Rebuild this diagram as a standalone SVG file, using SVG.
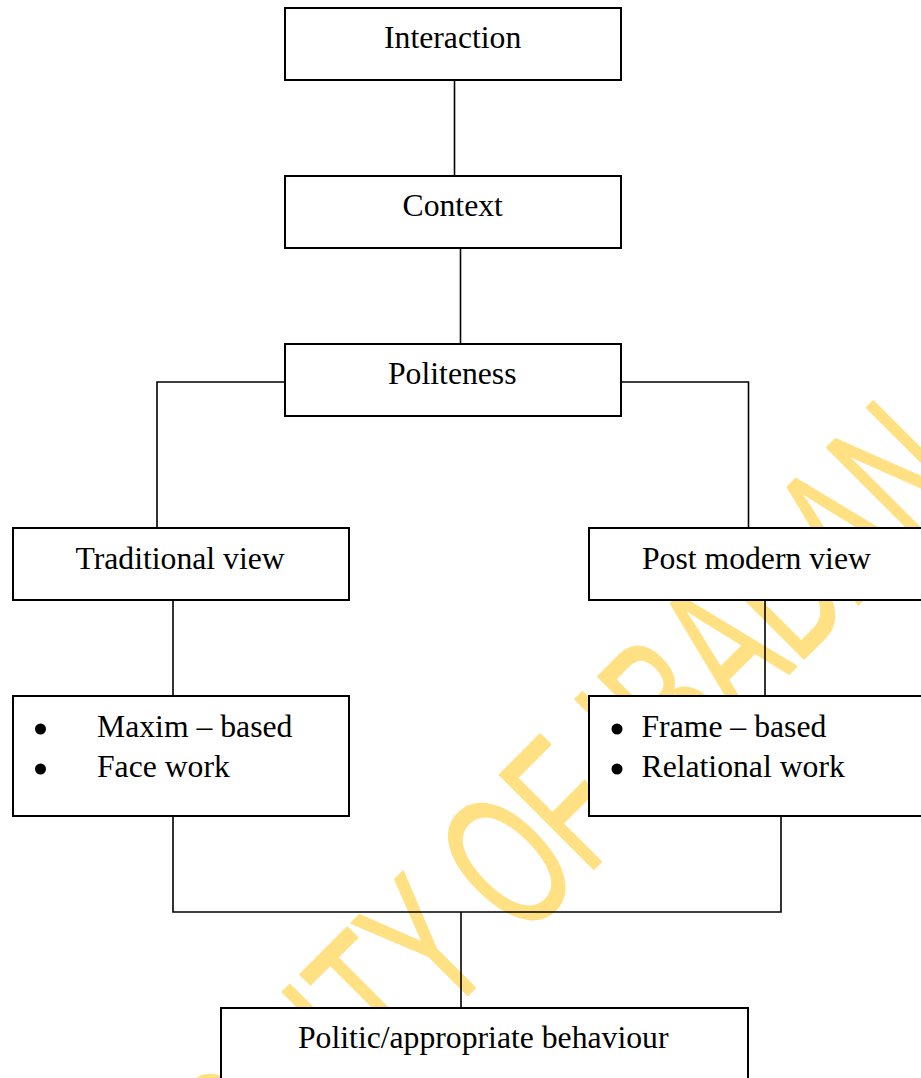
<svg xmlns="http://www.w3.org/2000/svg" width="921" height="1078" viewBox="0 0 921 1078">
  <style>
    .box { fill: #ffffff; stroke: #000000; stroke-width: 2; }
    .lbl { font-family: "Liberation Serif", "Times New Roman", serif; font-size: 31.7px; fill: #000000; }
    .link { fill: none; stroke: #000000; stroke-width: 1.6; }
    .mark { font-family: "Liberation Sans", Arial, sans-serif; font-size: 194px; fill: #ffe083; stroke: #ffe083; stroke-width: 1.6; stroke-linejoin: round; }
  </style>
  <rect width="921" height="1078" fill="#ffffff"/>

  <!-- background watermark -->
  <g id="watermark">
    <text class="mark" transform="translate(-5 1468) rotate(-45) scale(0.613 1)">UNIVERSITY OF IBADAN</text>
  </g>

  <!-- connectors -->
  <g id="connectors">
    <line class="link" x1="454.5" y1="80" x2="454.5" y2="176"/>
    <line class="link" x1="460.5" y1="248" x2="460.5" y2="344"/>
    <polyline class="link" points="287,382 157,382 157,528"/>
    <polyline class="link" points="621,382 748.5,382 748.5,528"/>
    <line class="link" x1="173" y1="600" x2="173" y2="696"/>
    <line class="link" x1="765" y1="600" x2="765" y2="696"/>
    <polyline class="link" points="173,816 173,912 781,912 781,816"/>
    <line class="link" x1="461" y1="912" x2="461" y2="1008"/>
  </g>

  <g id="interaction">
    <rect class="box" x="285" y="8" width="336" height="72"/>
    <text class="lbl" x="384" y="48">Interaction</text>
  </g>

  <g id="context">
    <rect class="box" x="285" y="176" width="336" height="72"/>
    <text class="lbl" x="402.5" y="216">Context</text>
  </g>

  <g id="politeness">
    <rect class="box" x="285" y="344" width="336" height="72"/>
    <text class="lbl" x="388" y="384">Politeness</text>
  </g>

  <g id="traditional-view">
    <rect class="box" x="13" y="528" width="336" height="72"/>
    <text class="lbl" x="75.5" y="569">Traditional view</text>
  </g>

  <g id="post-modern-view">
    <rect class="box" x="589" y="528" width="340" height="72"/>
    <text class="lbl" x="642" y="569">Post modern view</text>
  </g>

  <g id="traditional-features">
    <rect class="box" x="13" y="696" width="336" height="120"/>
    <circle cx="40.5" cy="729" r="5.5"/>
    <circle cx="40.5" cy="769" r="5.5"/>
    <text class="lbl" x="97" y="737">Maxim – based</text>
    <text class="lbl" x="97" y="777">Face work</text>
  </g>

  <g id="post-modern-features">
    <rect class="box" x="589" y="696" width="340" height="120"/>
    <circle cx="617" cy="729" r="5.5"/>
    <circle cx="617" cy="769" r="5.5"/>
    <text class="lbl" x="641.5" y="737">Frame – based</text>
    <text class="lbl" x="641.5" y="777">Relational work</text>
  </g>

  <g id="politic-behaviour">
    <rect class="box" x="221" y="1008" width="527" height="90"/>
    <text class="lbl" x="298" y="1048">Politic/appropriate behaviour</text>
  </g>
</svg>
